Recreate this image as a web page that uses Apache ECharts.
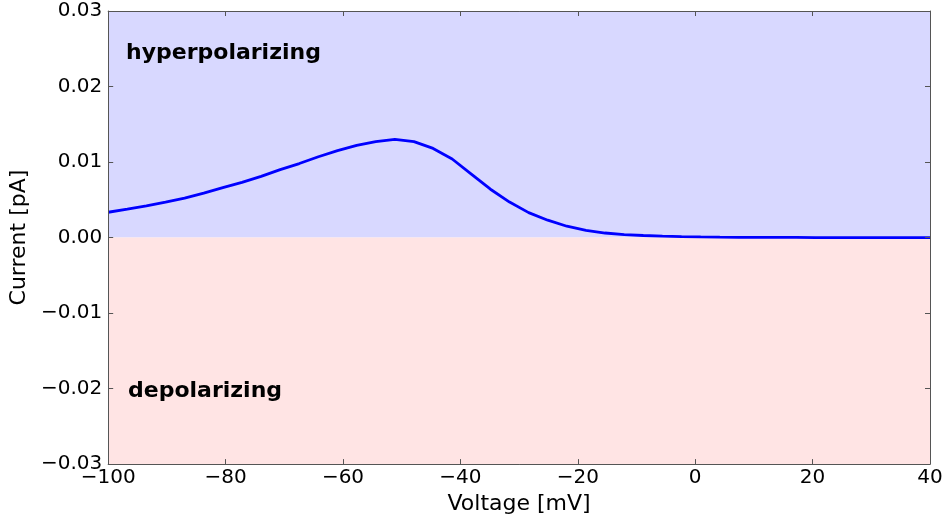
<!DOCTYPE html>
<html>
<head>
<meta charset="utf-8">
<script src="https://cdn.jsdelivr.net/npm/echarts@6/dist/echarts.min.js"></script>
<style>
  html, body { margin: 0; padding: 0; background: #fff; }
  #chart { width: 946px; height: 520px; }
</style>
</head>
<body>
<div id="chart"></div>
<script>
// voltage samples [mV]
const voltage = [
  -100, -96.74, -93.49, -90.23, -86.98, -83.72, -80.47, -77.21, -73.95, -70.70,
  -67.44, -64.19, -60.93, -57.67, -54.42, -51.16, -47.91, -44.65, -41.40, -38.14,
  -34.88, -31.63, -28.37, -25.12, -21.86, -18.60, -15.35, -12.09, -8.84, -5.58,
  -2.33, 0.93, 4.19, 7.44, 10.70, 13.95, 17.21, 20.47, 23.72, 26.98,
  30.23, 33.49, 36.74, 40
];
// current [pA]
const current = [
  0.00335, 0.00375, 0.00418, 0.00468, 0.00522, 0.00588, 0.0066, 0.0073, 0.0081, 0.0090,
  0.0098, 0.0107, 0.0115, 0.0122, 0.0127, 0.0130, 0.0127, 0.0118, 0.0104, 0.0084,
  0.0064, 0.0047, 0.0033, 0.0023, 0.0015, 0.00095, 0.0006, 0.0004, 0.00027, 0.00018,
  0.00012, 0.00008, 0.00005, 0.00003, 0.00002, 0.00001, 0.00001, 0, 0, 0,
  0, 0, 0, 0
];
const regionLabels = ['hyperpolarizing', 'depolarizing'];

const chart = echarts.init(document.getElementById('chart'));
const FONT = 'DejaVu Sans';
const minus = (s) => String(s).replace('-', '\u2212');
const frame = { show: true, onZero: false, lineStyle: { color: '#555', width: 1 } };
const tick = { show: true, inside: true, length: 5, lineStyle: { color: '#555' } };

chart.setOption({
  animation: false,
  grid: { left: 106, right: 16, top: 11, bottom: 55 },
  xAxis: [
    {
      type: 'value', min: -100, max: 40, interval: 20, z: 10,
      name: 'Voltage [mV]', nameLocation: 'middle', nameGap: 24,
      nameTextStyle: { fontFamily: FONT, fontSize: 22, color: '#000' },
      axisLine: frame, axisTick: tick, splitLine: { show: false },
      axisLabel: { fontFamily: FONT, fontSize: 20, color: '#000', margin: 4,
        formatter: (v) => minus(v) }
    },
    {
      type: 'value', position: 'top', min: -100, max: 40, interval: 20, z: 10,
      axisLine: frame, axisTick: tick, axisLabel: { show: false }, splitLine: { show: false }
    }
  ],
  yAxis: [
    {
      type: 'value', min: -0.03, max: 0.03, interval: 0.01, z: 10,
      name: 'Current [pA]', nameLocation: 'middle', nameGap: 74,
      nameTextStyle: { fontFamily: FONT, fontSize: 22, color: '#000' },
      axisLine: frame, axisTick: tick, splitLine: { show: false },
      axisLabel: { fontFamily: FONT, fontSize: 20, color: '#000', margin: 6,
        formatter: (v) => minus(v.toFixed(2)) }
    },
    {
      type: 'value', position: 'right', min: -0.03, max: 0.03, interval: 0.01, z: 10,
      axisLine: frame, axisTick: tick, axisLabel: { show: false },
      splitLine: { show: false }
    }
  ],
  graphic: [
    { type: 'text', left: 126, top: 42, z: 10,
      style: { text: regionLabels[0], fontFamily: FONT, fontSize: 22, fontWeight: 'bold', fill: '#000' } },
    { type: 'text', left: 128, top: 380, z: 10,
      style: { text: regionLabels[1], fontFamily: FONT, fontSize: 22, fontWeight: 'bold', fill: '#000' } }
  ],
  series: [{
    type: 'line',
    data: voltage.map((v, i) => [v, current[i]]),
    showSymbol: false,
    lineStyle: { color: '#0000ff', width: 2.8 },
    z: 5,
    markArea: {
      silent: true,
      data: [
        [{ coord: [-100, 0], itemStyle: { color: '#d8d8ff' } }, { coord: [40, 0.03] }],
        [{ coord: [-100, -0.03], itemStyle: { color: '#ffe4e4' } }, { coord: [40, 0] }]
      ]
    }
  }]
});
window.addEventListener('resize', chart.resize);
</script>
</body>
</html>
